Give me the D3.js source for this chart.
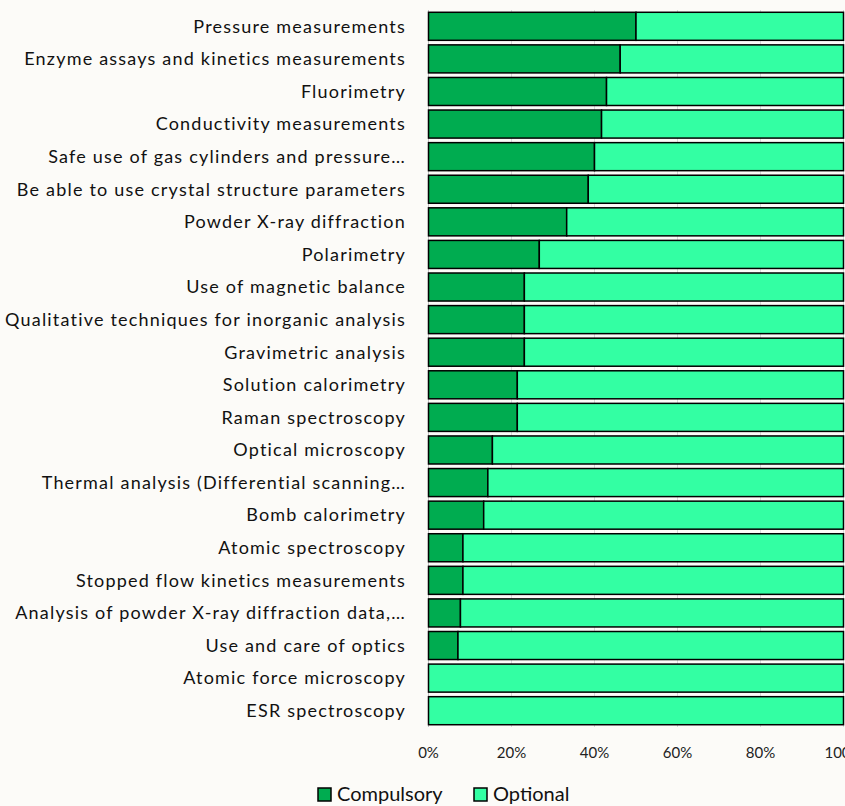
<!DOCTYPE html>
<html>
<head>
<meta charset="utf-8">
<script src="https://cdn.jsdelivr.net/npm/d3@7"></script>
<style>
  html, body { margin: 0; padding: 0; background: #fcfbf8; }
  svg { display: block; font-family: Lato, "Open Sans", sans-serif; }
</style>
</head>
<body>
<div class="chart-container"></div>
<script>
// --- Data ---

var categories = [
    "Pressure measurements",
    "Enzyme assays and kinetics measurements",
    "Fluorimetry",
    "Conductivity measurements",
    "Safe use of gas cylinders and pressure…",
    "Be able to use crystal structure parameters",
    "Powder X-ray diffraction",
    "Polarimetry",
    "Use of magnetic balance",
    "Qualitative techniques for inorganic analysis",
    "Gravimetric analysis",
    "Solution calorimetry",
    "Raman spectroscopy",
    "Optical microscopy",
    "Thermal analysis (Differential scanning…",
    "Bomb calorimetry",
    "Atomic spectroscopy",
    "Stopped flow kinetics measurements",
    "Analysis of powder X-ray diffraction data,…",
    "Use and care of optics",
    "Atomic force microscopy",
    "ESR spectroscopy"
];

var compulsory = [50.0, 46.2, 42.9, 41.7, 40.0, 38.5, 33.3, 26.7, 23.1, 23.1, 23.1,
    21.4, 21.4, 15.4, 14.3, 13.3, 8.3, 8.3, 7.7, 7.1, 0, 0];
var optional = [50.0, 53.8, 57.1, 58.3, 60.0, 61.5, 66.7, 73.3, 76.9, 76.9, 76.9,
    78.6, 78.6, 84.6, 85.7, 86.7, 91.7, 91.7, 92.3, 92.9, 100, 100];

var seriesNames = ["Compulsory", "Optional"];
var tickValues = [0, 20, 40, 60, 80, 100];

// --- Layout ---

const w = 845;
const h = 806;
const plotLeft = 428.5;
const plotRight = 843.5;
const plotTop = 10;
const plotBottom = 727;

var colors = ["#00ac50", "#33ffa3"];

var rows = categories.map(function (c, i) {
    return { name: c, Compulsory: compulsory[i], Optional: optional[i] };
});

var stacked = d3.stack().keys(seriesNames)(rows);

// --- Scales ---

var xScale = d3.scaleLinear()
    .domain([0, 100])
    .range([plotLeft, plotRight]);

var yScale = d3.scaleBand()
    .domain(categories)
    .range([plotTop, plotBottom])
    .paddingInner(0.14)
    .paddingOuter(0.07);

var svg = d3.select(".chart-container")
    .append("svg")
    .attr("width", w)
    .attr("height", h);

// gridlines
svg.append("g")
    .selectAll("line")
    .data(tickValues.slice(1))
    .enter()
    .append("line")
    .attr("x1", function (d) { return xScale(d); })
    .attr("x2", function (d) { return xScale(d); })
    .attr("y1", plotTop)
    .attr("y2", plotBottom)
    .attr("stroke", "#d9d9d9")
    .attr("stroke-width", 1);

// left axis line
svg.append("line")
    .attr("x1", plotLeft)
    .attr("x2", plotLeft)
    .attr("y1", plotTop)
    .attr("y2", plotBottom)
    .attr("stroke", "#bfbfbf")
    .attr("stroke-width", 1);

// stacked bars
svg.append("g")
    .selectAll("g")
    .data(stacked)
    .enter()
    .append("g")
    .attr("fill", function (d, i) { return colors[i]; })
    .selectAll("rect")
    .data(function (d) { return d; })
    .enter()
    .append("rect")
    .attr("x", function (d) { return xScale(d[0]); })
    .attr("y", function (d) { return yScale(d.data.name); })
    .attr("width", function (d) { return Math.max(0, xScale(d[1]) - xScale(d[0])); })
    .attr("height", yScale.bandwidth())
    .attr("stroke", "#000")
    .attr("stroke-width", 1.5);

// category labels
svg.append("g")
    .selectAll("text")
    .data(categories)
    .enter()
    .append("text")
    .text(function (d) { return d; })
    .attr("x", 406)
    .attr("y", function (d) { return yScale(d) + yScale.bandwidth() / 2; })
    .attr("dy", "0.35em")
    .attr("text-anchor", "end")
    .attr("font-size", "18px")
    .attr("letter-spacing", "1.2px")
    .attr("fill", "#111");

// x tick labels
svg.append("g")
    .selectAll("text")
    .data(tickValues)
    .enter()
    .append("text")
    .text(function (d) { return d + "%"; })
    .attr("x", function (d) { return xScale(d); })
    .attr("y", 753)
    .attr("dy", "0.35em")
    .attr("text-anchor", "middle")
    .attr("font-size", "15px")
    .attr("fill", "#222");

// legend
var legend = svg.append("g")
    .selectAll("g")
    .data(seriesNames)
    .enter()
    .append("g")
    .attr("transform", function (d, i) { return "translate(" + (318 + i * 156) + ",788)"; });

legend.append("rect")
    .attr("width", 13)
    .attr("height", 13)
    .attr("fill", function (d, i) { return colors[i]; })
    .attr("stroke", "#000")
    .attr("stroke-width", 1.5);

legend.append("text")
    .text(function (d) { return d; })
    .attr("x", 19)
    .attr("y", 13)
    .attr("font-size", "20px")
    .attr("fill", "#111");
</script>
</body>
</html>
